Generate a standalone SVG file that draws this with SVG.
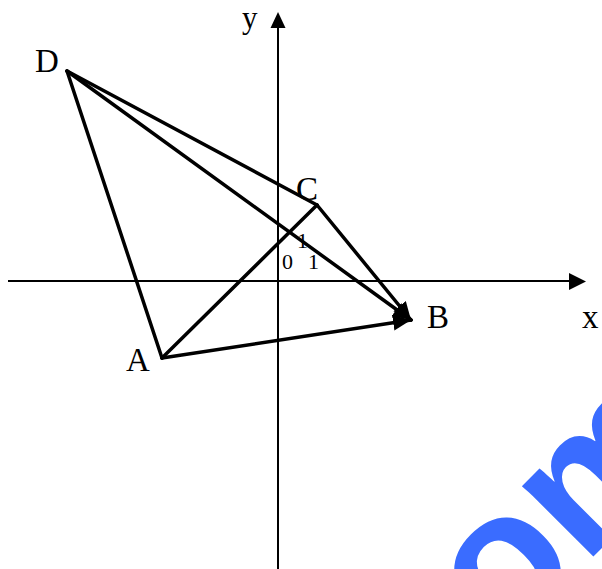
<svg xmlns="http://www.w3.org/2000/svg" width="602" height="569" viewBox="0 0 602 569">
<style>
.lbl{font-family:"Liberation Serif","Times New Roman",serif;font-size:33px;fill:#000}
.num{font-family:"Liberation Serif","Times New Roman",serif;font-size:22px;fill:#000}
.axis{stroke:#000;stroke-width:2;fill:none}
.seg{stroke:#000;stroke-width:3.5;fill:none;stroke-linecap:round}
.wm{font-family:"Liberation Sans",Arial,sans-serif;font-weight:bold;font-size:190px;fill:#3a6cff}
</style>
<defs>
<marker id="ah" markerUnits="userSpaceOnUse" markerWidth="20" markerHeight="18" refX="18" refY="8" orient="auto">
<path d="M0,0 L18,8 L0,16 Z" fill="#000"/>
</marker>
</defs>
<g id="watermark"><text class="wm" transform="translate(502,648) rotate(-45)">om</text></g>
<g id="axes">
<line class="axis" x1="8" y1="281" x2="570" y2="281"/>
<polygon points="569,273 586,281.5 569,290" fill="#000"/>
<line class="axis" x1="278" y1="569" x2="278" y2="27"/>
<polygon points="270.5,28 278,12 285.5,28" fill="#000"/>
</g>
<g id="connectors">
<line class="seg" x1="67" y1="71" x2="162" y2="358"/>
<line class="seg" x1="67" y1="71" x2="317" y2="205"/>
<line class="seg" x1="162" y1="358" x2="317" y2="205"/>
<line class="seg" x1="67" y1="71" x2="411" y2="320" marker-end="url(#ah)"/>
<line class="seg" x1="317" y1="205" x2="411" y2="320" marker-end="url(#ah)"/>
<line class="seg" x1="162" y1="358" x2="411" y2="320" marker-end="url(#ah)"/>
</g>
<g id="node-D"><text class="lbl" x="35" y="72">D</text></g>
<g id="node-C"><text class="lbl" x="296" y="200">C</text></g>
<g id="node-B"><text class="lbl" x="427" y="328">B</text></g>
<g id="node-A"><text class="lbl" x="126" y="371">A</text></g>
<g id="label-x"><text class="lbl" x="582" y="328">x</text></g>
<g id="label-y"><text class="lbl" x="242" y="28" style="font-size:31px">y</text></g>
<g id="label-0"><text class="num" x="282" y="269">0</text></g>
<g id="label-1a"><text class="num" x="297" y="248">1</text></g>
<g id="label-1b"><text class="num" x="308" y="269">1</text></g>
</svg>
